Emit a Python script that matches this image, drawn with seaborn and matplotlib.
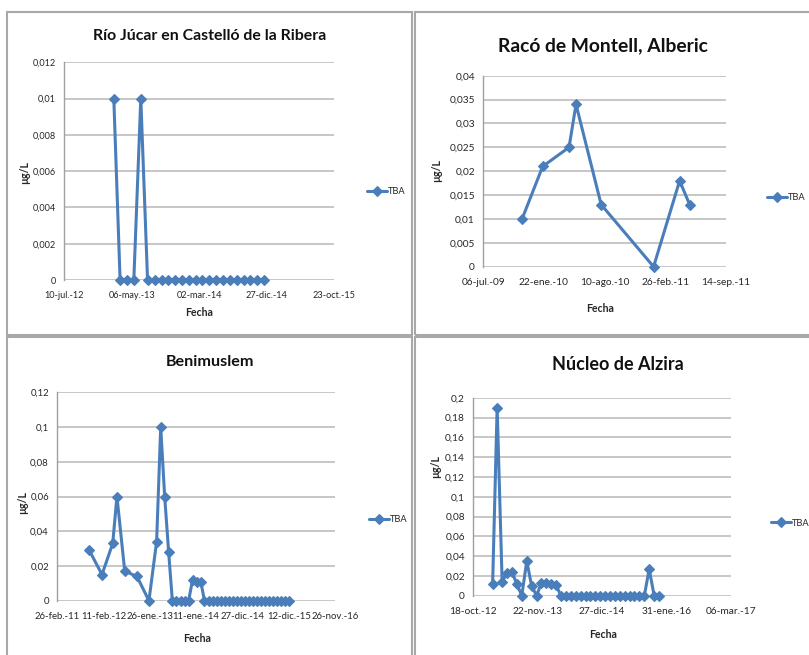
import matplotlib
matplotlib.use("Agg")
import matplotlib.pyplot as plt
from matplotlib.patches import Rectangle
import numpy as np
import pandas as pd
import seaborn as sns

sns.set_theme(style="white")
plt.rcParams["font.family"] = ["Lato", "DejaVu Sans"]

# ---------------- data ----------------
# Río Júcar en Castelló de la Ribera
castello_dates = [
    "2013-02-15", "2013-03-15", "2013-04-15", "2013-05-15", "2013-06-15", "2013-07-15",
    "2013-08-15", "2013-09-15", "2013-10-15", "2013-11-15", "2013-12-15", "2014-01-15",
    "2014-02-15", "2014-03-15", "2014-04-15", "2014-05-15", "2014-06-15", "2014-07-15",
    "2014-08-15", "2014-09-15", "2014-10-15", "2014-11-15", "2014-12-15",
]
castello_tba = [
    0.01, 0, 0, 0, 0.01, 0, 0, 0, 0, 0, 0, 0,
    0, 0, 0, 0, 0, 0, 0, 0, 0, 0, 0,
]
castello_xticks = ["2012-07-10", "2013-05-06", "2014-03-02", "2014-12-27", "2015-10-23"]
castello_xlabels = ["10-jul.-12", "06-may.-13", "02-mar.-14", "27-dic.-14", "23-oct.-15"]
castello_yticks = [0, 0.002, 0.004, 0.006, 0.008, 0.01, 0.012]
castello_ylabels = ["0", "0,002", "0,004", "0,006", "0,008", "0,01", "0,012"]

# Racó de Montell, Alberic
montell_dates = [
    "2009-11-11", "2010-01-18", "2010-04-15", "2010-05-08",
    "2010-07-30", "2011-01-19", "2011-04-15", "2011-05-18",
]
montell_tba = [0.010, 0.021, 0.025, 0.034, 0.013, 0.0, 0.018, 0.013]
montell_xticks = ["2009-07-06", "2010-01-22", "2010-08-10", "2011-02-26", "2011-09-14"]
montell_xlabels = ["06-jul.-09", "22-ene.-10", "10-ago.-10", "26-feb.-11", "14-sep.-11"]
montell_yticks = [0, 0.005, 0.01, 0.015, 0.02, 0.025, 0.03, 0.035, 0.04]
montell_ylabels = ["0", "0,005", "0,01", "0,015", "0,02", "0,025", "0,03", "0,035", "0,04"]

# Benimuslem
benimuslem_dates = [
    "2011-10-26", "2012-01-30", "2012-04-20", "2012-05-22", "2012-07-20", "2012-10-20",
    "2013-01-19", "2013-03-18", "2013-04-18", "2013-05-18", "2013-06-17",
    "2013-07-15", "2013-08-15", "2013-09-15", "2013-10-15", "2013-11-15",
    "2013-12-15", "2014-01-15", "2014-02-15",
    "2014-03-15", "2014-04-15", "2014-05-15", "2014-06-15", "2014-07-15", "2014-08-15",
    "2014-09-15", "2014-10-15", "2014-11-15", "2014-12-15", "2015-01-15", "2015-02-15",
    "2015-03-15", "2015-04-15", "2015-05-15", "2015-06-15", "2015-07-15", "2015-08-15",
    "2015-09-15", "2015-10-15", "2015-11-15", "2015-12-15",
]
benimuslem_tba = [
    0.029, 0.015, 0.033, 0.060, 0.017, 0.014,
    0.0, 0.034, 0.100, 0.060, 0.028,
    0, 0, 0, 0, 0,
    0.012, 0.011, 0.011,
    0, 0, 0, 0, 0, 0,
    0, 0, 0, 0, 0, 0,
    0, 0, 0, 0, 0, 0,
    0, 0, 0, 0,
]
benimuslem_xticks = ["2011-02-26", "2012-02-11", "2013-01-26", "2014-01-11",
                     "2014-12-27", "2015-12-12", "2016-11-26"]
benimuslem_xlabels = ["26-feb.-11", "11-feb.-12", "26-ene.-13", "11-ene.-14",
                      "27-dic.-14", "12-dic.-15", "26-nov.-16"]
benimuslem_yticks = [0, 0.02, 0.04, 0.06, 0.08, 0.1, 0.12]
benimuslem_ylabels = ["0", "0,02", "0,04", "0,06", "0,08", "0,1", "0,12"]

# Núcleo de Alzira
alzira_dates = [
    "2013-02-15", "2013-03-15", "2013-04-15", "2013-05-15", "2013-06-15", "2013-07-15",
    "2013-08-15", "2013-09-15", "2013-10-15", "2013-11-15", "2013-12-15", "2014-01-15",
    "2014-02-15", "2014-03-15", "2014-04-15",
    "2014-05-15", "2014-06-15", "2014-07-15", "2014-08-15", "2014-09-15", "2014-10-15",
    "2014-11-15", "2014-12-15", "2015-01-15", "2015-02-15", "2015-03-15", "2015-04-15",
    "2015-05-15", "2015-06-15", "2015-07-15", "2015-08-15", "2015-09-15",
    "2015-10-15", "2015-11-15", "2015-12-15",
]
alzira_tba = [
    0.012, 0.19, 0.014, 0.023, 0.024, 0.012,
    0.0, 0.035, 0.010, 0.0, 0.013, 0.013,
    0.012, 0.011, 0.0,
    0, 0, 0, 0, 0, 0,
    0, 0, 0, 0, 0, 0,
    0, 0, 0, 0, 0,
    0.027, 0, 0,
]
alzira_xticks = ["2012-10-18", "2013-11-22", "2014-12-27", "2016-01-31", "2017-03-06"]
alzira_xlabels = ["18-oct.-12", "22-nov.-13", "27-dic.-14", "31-ene.-16", "06-mar.-17"]
alzira_yticks = [0, 0.02, 0.04, 0.06, 0.08, 0.1, 0.12, 0.14, 0.16, 0.18, 0.2]
alzira_ylabels = ["0", "0,02", "0,04", "0,06", "0,08", "0,1", "0,12", "0,14", "0,16", "0,18", "0,2"]

# ---------------- layout ----------------
W, H = 809, 655
fig = plt.figure(figsize=(W / 100, H / 100), dpi=100)
fig.patch.set_facecolor("white")

LINE = "#4A7EBB"
GRID = "#BDBDBD"
TXT = "#262626"


def fx(px):
    return px / W


def fy(py):
    return 1 - py / H


def add_axes(l, r, t, b):
    return fig.add_axes([fx(l), fy(b), fx(r) - fx(l), fy(t) - fy(b)])


panels = [
    dict(box=(64.3, 334.3, 62.3, 280.0), dates=castello_dates, vals=castello_tba,
         xt=castello_xticks, xl=castello_xlabels, yt=castello_yticks, yl=castello_ylabels,
         title="Río Júcar en Castelló de la Ribera", twidth=236, tpos=(210, 36), tick=6.6,
         ylab_pos=(25, 172), fecha_pos=(199, 313), leg_pos=(367, 192)),
    dict(box=(483.3, 725.7, 75.7, 266.7), dates=montell_dates, vals=montell_tba,
         xt=montell_xticks, xl=montell_xlabels, yt=montell_yticks, yl=montell_ylabels,
         title="Racó de Montell, Alberic", twidth=212, tpos=(603, 46), tick=7.3,
         ylab_pos=(437, 170), fecha_pos=(600, 308), leg_pos=(767, 198)),
    dict(box=(57.3, 335.0, 392.3, 600.7), dates=benimuslem_dates, vals=benimuslem_tba,
         xt=benimuslem_xticks, xl=benimuslem_xlabels, yt=benimuslem_yticks, yl=benimuslem_ylabels,
         title="Benimuslem", twidth=89, tpos=(210, 362), tick=6.9,
         ylab_pos=(23, 503), fecha_pos=(197, 638), leg_pos=(369, 520)),
    dict(box=(473.3, 731.0, 397.7, 595.7), dates=alzira_dates, vals=alzira_tba,
         xt=alzira_xticks, xl=alzira_xlabels, yt=alzira_yticks, yl=alzira_ylabels,
         title="Núcleo de Alzira", twidth=132, tpos=(618, 365), tick=7.3,
         ylab_pos=(436, 467), fecha_pos=(603, 635), leg_pos=(771, 523)),
]

renderer = fig.canvas.get_renderer()

for p in panels:
    ax = add_axes(*p["box"])
    df = pd.DataFrame({"Fecha": pd.to_datetime(p["dates"]), "TBA": p["vals"]})
    sns.lineplot(data=df, x="Fecha", y="TBA", ax=ax, color=LINE, linewidth=2.2,
                 marker="D", markersize=5.5, markeredgecolor=LINE, markeredgewidth=0.8,
                 label="TBA", clip_on=False, zorder=5)

    xt = pd.to_datetime(p["xt"])
    ax.set_xlim(xt[0], xt[-1])
    ax.set_xticks(xt)
    ax.set_xticklabels(p["xl"], fontsize=p["tick"], color=TXT)
    ax.set_ylim(p["yt"][0], p["yt"][-1])
    ax.set_yticks(p["yt"])
    ax.set_yticklabels(p["yl"], fontsize=p["tick"], color=TXT)
    ax.tick_params(axis="x", length=0, pad=8)
    ax.tick_params(axis="y", length=0, pad=6)
    ax.set_xlabel("")
    ax.set_ylabel("")
    ax.yaxis.grid(True, color=GRID, linewidth=1.2)
    ax.xaxis.grid(False)
    for s in ["top", "right", "bottom"]:
        ax.spines[s].set_visible(False)
    ax.spines["left"].set_color("#A0A0A0")
    ax.spines["left"].set_linewidth(1.0)
    ax.set_facecolor("white")

    handles, labels = ax.get_legend_handles_labels()
    ax.legend(handles, labels, loc="center left",
              bbox_to_anchor=(fx(p["leg_pos"][0]), fy(p["leg_pos"][1])),
              bbox_transform=fig.transFigure, frameon=False, fontsize=6.7,
              handlelength=2.2, handletextpad=0.1, borderpad=0, borderaxespad=0,
              labelcolor=TXT)

    # title sized to its printed width
    t = fig.text(fx(p["tpos"][0]), fy(p["tpos"][1]), p["title"], ha="center", va="center",
                 fontsize=14, fontweight="bold", color="#111111")
    w = t.get_window_extent(renderer=renderer).width
    t.set_fontsize(14 * p["twidth"] / w)

    fig.text(fx(p["ylab_pos"][0]), fy(p["ylab_pos"][1]), "µg/L", ha="center", va="center",
             rotation=90, fontsize=7.6, fontweight="bold", color=TXT)
    fig.text(fx(p["fecha_pos"][0]), fy(p["fecha_pos"][1]), "Fecha", ha="center", va="center",
             fontsize=7.6, fontweight="bold", color=TXT)

# chart frames
for (l, t, r, b) in [(7, 12, 412, 335), (415, 12, 815, 335),
                     (7, 337, 412, 665), (415, 337, 815, 665)]:
    fig.add_artist(Rectangle((fx(l), fy(b)), fx(r) - fx(l), fy(t) - fy(b),
                             transform=fig.transFigure, fill=False,
                             edgecolor="#A8A8A8", linewidth=1.5, clip_on=False))

fig.savefig("out.png", dpi=100, facecolor="white")
